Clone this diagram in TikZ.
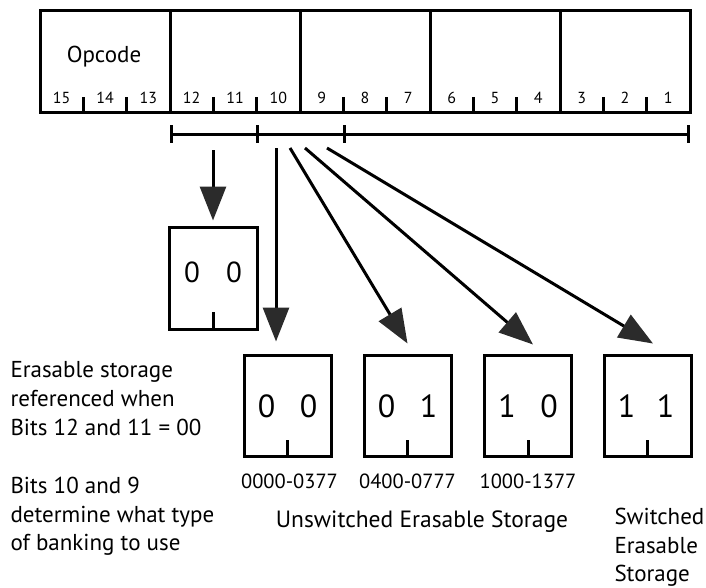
\documentclass[tikz,border=0pt]{standalone}
\usepackage{fontspec}
\setmainfont{PT Sans}
\usetikzlibrary{arrows.meta,calc}
\definecolor{arrowgray}{HTML}{2B2B2B}
\begin{document}
\begin{tikzpicture}[x=1pt,y=-1pt,
  line width=3pt,
  regbox/.style={draw, line width=3pt, inner sep=0pt, minimum width=650pt, minimum height=102pt},
  bank/.style={draw, line width=3pt, inner sep=0pt, minimum width=87pt, minimum height=101pt},
  bigarrow/.style={line width=3pt, -{Triangle[length=34pt,width=26pt,color=arrowgray]}},
  bitlbl/.style={font=\fontsize{16}{18}\selectfont, anchor=base, inner sep=0pt},
  bigdigit/.style={font=\fontsize{32}{36}\selectfont, anchor=base, inner sep=0pt},
  smalldigit/.style={font=\fontsize{29}{32}\selectfont, anchor=base, inner sep=0pt},
  addr/.style={font=\fontsize{20.5}{22}\selectfont, anchor=base, inner sep=0pt},
  note/.style={font=\fontsize{23}{26}\selectfont, anchor=base west, inner sep=0pt},
  caption/.style={font=\fontsize{23.5}{28}\selectfont, anchor=base, inner sep=0pt}
]
\useasboundingbox (0,0) rectangle (706,587);

% instruction word: five fields of three bits
\node[regbox] (reg) at (365,61) {};
\foreach \k in {1,...,4}
  \draw (40+130*\k,10) -- (40+130*\k,112);
\foreach \j in {1,2,4,5,7,8,10,11,13,14}
  \draw (40+43.333*\j,97) -- (40+43.333*\j,112);
\foreach \j in {0,...,14}{
  \pgfmathtruncatemacro\bitno{15-\j}
  \node[bitlbl] (bit\bitno) at (40+43.333*\j+21.667,103.5) {\bitno};
}
\node[font=\fontsize{23}{26}\selectfont, anchor=base, inner sep=0pt] (opcode) at (104,62) {Opcode};

% bracket under bits 12..1
\coordinate (br0) at (171,134);
\coordinate (br1) at (257,134);
\coordinate (br2) at (344,134);
\coordinate (br3) at (688,134);
\draw (br0) -- (br3);
\foreach \c in {br0,br1,br2,br3}
  \draw ([yshift=9pt]\c) -- ([yshift=-9pt]\c);

% bank selector boxes
\node[bank, minimum width=88pt, minimum height=102pt] (sel) at (213,278) {};
\node[bank] (b00) at (287.5,405.5) {};
\node[bank] (b01) at (407.5,405.5) {};
\node[bank] (b10) at (528,405.5) {};
\node[bank] (b11) at (647.5,405.5) {};

\draw (sel.south) -- ++(0,-19);
\foreach \b in {b00,b01,b10,b11}
  \draw (\b.south) -- ++(0,-18);

\node[smalldigit] (sell) at ($(sel)+(-21,4)$) {0};
\node[smalldigit] (selr) at ($(sel)+(21,4)$) {0};

\node[bigdigit] (b00l) at ($(b00)+(-21,11.5)$) {0};
\node[bigdigit] (b00r) at ($(b00)+(21,11.5)$) {0};
\node[bigdigit] (b01l) at ($(b01)+(-21,11.5)$) {0};
\node[bigdigit] (b01r) at ($(b01)+(21,11.5)$) {1};
\node[bigdigit] (b10l) at ($(b10)+(-21,11.5)$) {1};
\node[bigdigit] (b10r) at ($(b10)+(21,11.5)$) {0};
\node[bigdigit] (b11l) at ($(b11)+(-21,11.5)$) {1};
\node[bigdigit] (b11r) at ($(b11)+(18,11.5)$) {1};

% arrows from the bracket
\coordinate (s0) at (213,150);
\coordinate (s1) at (276,148);
\coordinate (s2) at (290,148);
\coordinate (s3) at (305,148);
\coordinate (s4) at (327,148);
\draw[bigarrow] (s0) -- ([yshift=5pt]sel.north);
\draw[bigarrow] (s1) -- ([xshift=-11.5pt,yshift=12pt]b00.north);
\draw[bigarrow] (s2) -- ([yshift=10pt]b01.north);
\draw[bigarrow] (s3) -- ([xshift=5pt,yshift=9pt]b10.north);
\draw[bigarrow] (s4) -- ([xshift=5.5pt,yshift=10pt]b11.north);

% address ranges
\node[addr] (a00) at ($(b00.south)+(2,31)$) {0000-0377};
\node[addr] (a01) at ($(b01.south)+(0,31)$) {0400-0777};
\node[addr] (a10) at ($(b10.south)+(0,31)$) {1000-1377};

\node[caption] (unsw) at (422,527) {Unswitched Erasable Storage};
\node[note] (sw1) at (613,524) {Switched};
\node[note] (sw2) at (613,553) {Erasable};
\node[note] (sw3) at (613,581) {Storage};

% explanatory notes
\node[note] (n1) at (9,377) {Erasable storage};
\node[note] (n2) at (9,406) {referenced when};
\node[note] (n3) at (9,435) {Bits 12 and 11 = 00};
\node[note] (n4) at (9,493) {Bits 10 and 9};
\node[note] (n5) at (9,522) {determine what type};
\node[note] (n6) at (9,550) {of banking to use};
\end{tikzpicture}
\end{document}
